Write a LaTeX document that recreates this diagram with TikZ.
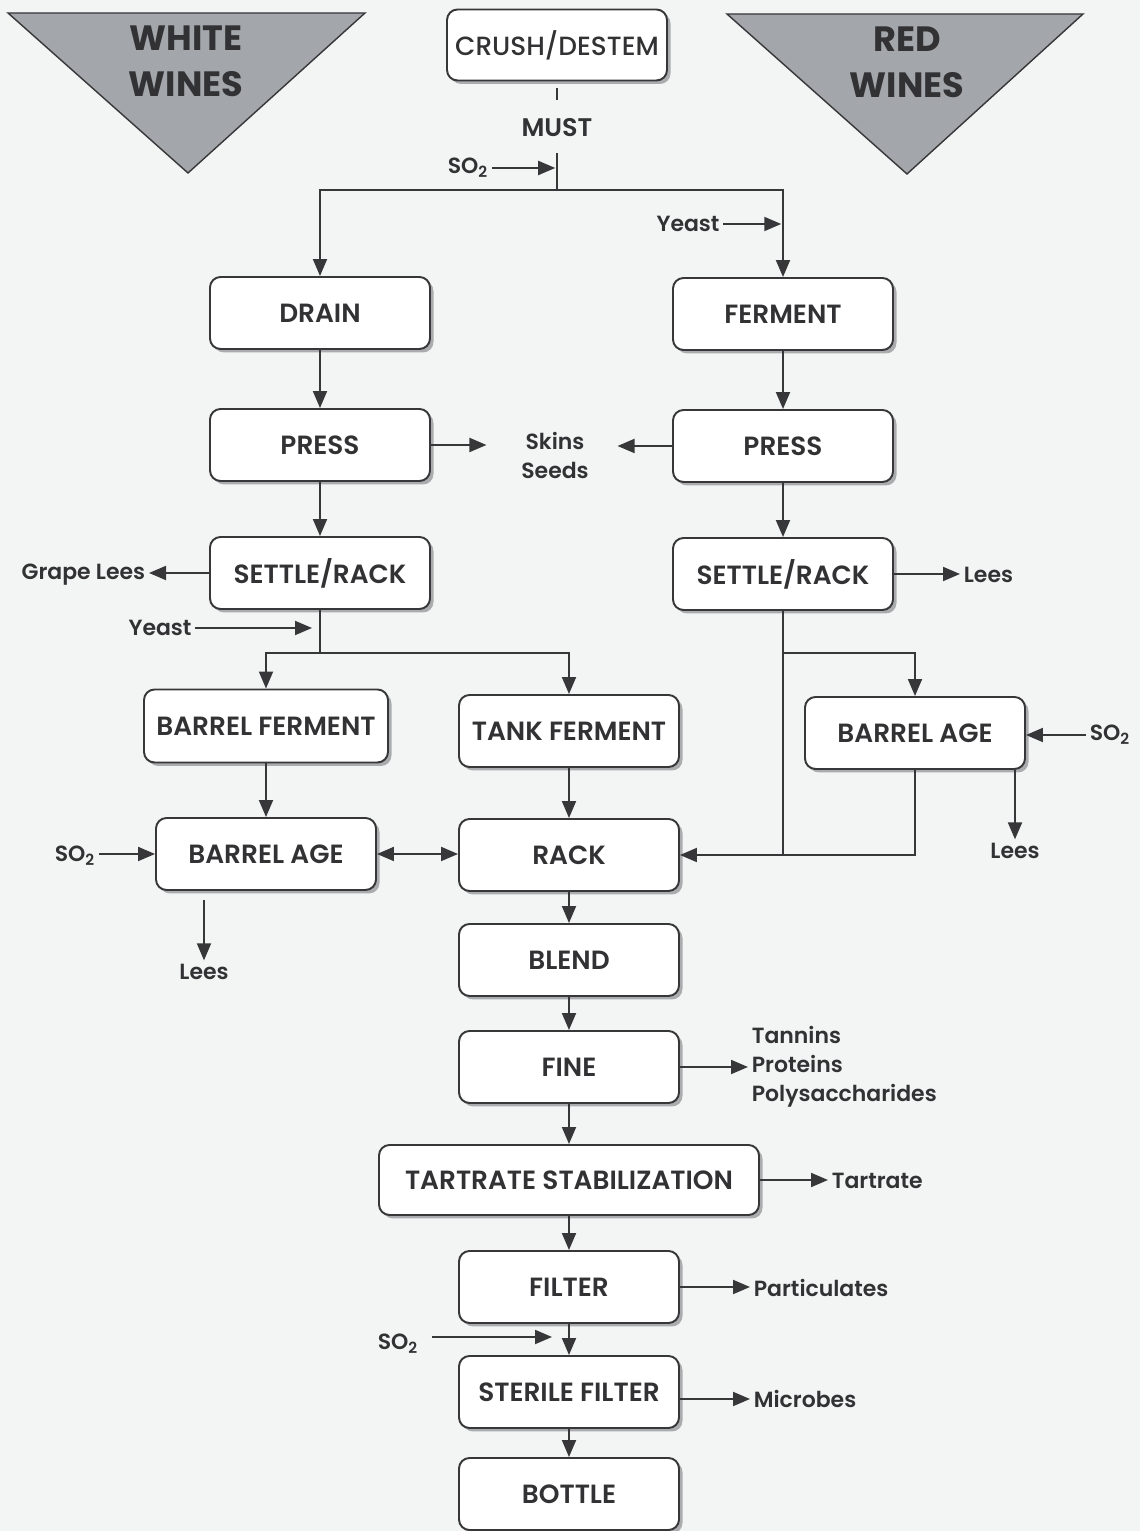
\documentclass[tikz,border=0pt]{standalone}
\usepackage{fontspec}
\setmainfont{Poppins}[BoldFont={Poppins SemiBold}]
\newfontfamily\heavyfont{Poppins Bold}
\newfontfamily\mediumfont{Poppins Medium}
\usetikzlibrary{arrows.meta,shadows}
\begin{document}
\begin{tikzpicture}[
  stage/.style={draw=linecolor,line width=1.1pt,fill=white,rounded corners=6pt,
    minimum width=4.4cm,minimum height=1.44cm,text=textcolor,
    font=\bfseries\fontsize{15}{17}\selectfont,
    drop shadow={shadow xshift=0.07cm,shadow yshift=-0.07cm,fill=shadowcolor,opacity=1}},
  note/.style={font=\bfseries\fontsize{12.5}{15}\selectfont,text=textcolor,inner sep=2pt},
  bignote/.style={font=\heavyfont\fontsize{20}{26}\selectfont,text=textcolor,align=center},
  flow/.style={draw=linecolor,line width=1.1pt},
  arr/.style={flow,-{Triangle[length=0.34cm,width=0.28cm]}},
  dblarr/.style={flow,{Triangle[length=0.34cm,width=0.28cm]}-{Triangle[length=0.34cm,width=0.28cm]}},
  ]
\definecolor{background}{RGB}{243,244,244}
\definecolor{linecolor}{RGB}{55,55,57}
\definecolor{textcolor}{RGB}{50,50,52}
\definecolor{shadowcolor}{RGB}{170,172,174}
\definecolor{tricolor}{RGB}{163,166,170}
\fill[background] (0,0) rectangle (22.8,30.62);
\useasboundingbox (0,0) rectangle (22.8,30.62);
% the two wine triangles
\draw[draw=linecolor,fill=tricolor,line width=0.8pt] (0.16,30.36) -- (7.30,30.36) -- (3.76,27.16) -- cycle;
\node[bignote] (whiteWines) at (3.72,29.40) {WHITE\\WINES};
\draw[draw=linecolor,fill=tricolor,line width=0.8pt] (14.54,30.34) -- (21.66,30.34) -- (18.14,27.14) -- cycle;
\node[bignote] (redWines) at (18.14,29.38) {RED\\WINES};
% process steps
\node[stage,font=\mediumfont\fontsize{15}{17}\selectfont,minimum height=1.42cm] (crush) at (11.14,29.72) {CRUSH/DESTEM};
\node[stage] (drain) at (6.40,24.36) {DRAIN};
\node[stage] (ferment) at (15.66,24.34) {FERMENT};
\node[stage] (pressL) at (6.40,21.72) {PRESS};
\node[stage] (pressR) at (15.66,21.70) {PRESS};
\node[stage] (settleL) at (6.40,19.16) {SETTLE/RACK};
\node[stage] (settleR) at (15.66,19.14) {SETTLE/RACK};
\node[stage,minimum width=4.88cm,minimum height=1.46cm] (barrelF) at (5.32,16.10) {BARREL FERMENT};
\node[stage] (tankF) at (11.38,16.00) {TANK FERMENT};
\node[stage] (barrelAgeR) at (18.30,15.96) {BARREL AGE};
\node[stage] (barrelAgeL) at (5.32,13.54) {BARREL AGE};
\node[stage] (rack) at (11.38,13.52) {RACK};
\node[stage] (blend) at (11.38,11.42) {BLEND};
\node[stage] (fine) at (11.38,9.28) {FINE};
\node[stage,minimum width=7.6cm,minimum height=1.40cm] (tartrate) at (11.38,7.02) {TARTRATE STABILIZATION};
\node[stage] (filter) at (11.38,4.88) {FILTER};
\node[stage] (sterile) at (11.38,2.78) {STERILE FILTER};
\node[stage] (bottle) at (11.38,0.74) {BOTTLE};
% inputs and outputs
\node[note,font=\bfseries\fontsize{14.5}{17}\selectfont] (must) at (11.14,28.06) {MUST};
\node[note] (so2Top) at (9.36,27.26) {SO\textsubscript{2}};
\node[note] (yeastR) at (13.76,26.14) {Yeast};
\node[note,align=center,font=\bfseries\fontsize{12.5}{16.5}\selectfont] (skins) at (11.10,21.51) {Skins\\Seeds};
\node[note,anchor=east] (grapeLees) at (2.98,19.12) {Grape Lees};
\node[note,anchor=west] (leesR) at (19.20,19.12) {Lees};
\node[note] (yeastL) at (3.20,18.06) {Yeast};
\node[note] (so2L) at (1.50,13.50) {SO\textsubscript{2}};
\node[note] (leesL) at (4.08,11.18) {Lees};
\node[note] (so2R) at (22.20,15.92) {SO\textsubscript{2}};
\node[note] (leesRb) at (20.30,13.60) {Lees};
\node[note,anchor=west,align=left,font=\bfseries\fontsize{12.5}{16.4}\selectfont] (fineOut) at (14.96,9.28) {Tannins\\Proteins\\Polysaccharides};
\node[note,anchor=west] (tartOut) at (16.56,7.00) {Tartrate};
\node[note,anchor=west] (partOut) at (15.00,4.86) {Particulates};
\node[note,anchor=west] (microbes) at (15.00,2.64) {Microbes};
\node[note] (so2B) at (7.96,3.74) {SO\textsubscript{2}};
\coordinate (mustTop) at (11.14,28.62);
\coordinate (split) at (11.14,26.82);
\coordinate (splitL) at (6.40,17.56);
\coordinate (splitR) at (15.66,17.56);
\coordinate (joinR) at (15.66,13.52);
\coordinate (so2Bin) at (11.04,3.88);
% connectors
\draw[flow] ([yshift=-0.14cm]crush.south) -- (mustTop);
\draw[flow,shorten <=0.25cm] (must.south) -- (split);
\draw[arr,shorten >=1pt] (so2Top.east) -- (so2Top.east -| split);
\draw[arr] (split) -| (drain);
\draw[arr] (split) -| (ferment);
\draw[arr,shorten >=1pt] (yeastR.east) -- (yeastR.east -| ferment);
\draw[arr] (drain) -- (pressL);
\draw[arr] (ferment) -- (pressR);
\draw[arr,shorten >=0.62cm] (pressL.east) -- (pressL.east -| skins.west);
\draw[arr,shorten >=0.5cm] (pressR.west) -- (pressR.west -| skins.east);
\draw[arr] (pressL) -- (settleL);
\draw[arr] (pressR) -- (settleR);
\draw[arr] (settleL.west) -- (settleL.west -| grapeLees.east);
\draw[arr] (settleR.east) -- (settleR.east -| leesR.west);
\draw[flow] (settleL) -- (splitL);
\draw[arr,shorten >=0.16cm] (yeastL.east) -- (yeastL.east -| splitL);
\draw[arr] (splitL) -| (barrelF);
\draw[arr] (splitL) -| (tankF);
\draw[arr] (barrelF) -- (barrelAgeL);
\draw[arr] (tankF) -- (rack);
\draw[arr] (barrelAgeL.west -| so2L.east) -- (barrelAgeL.west);
\draw[dblarr] (barrelAgeL.east) -- (barrelAgeL.east -| rack.west);
\draw[arr] ([yshift=-0.18cm]barrelAgeL.south -| leesL) -- (leesL.north);
\draw[flow] (settleR) -- (joinR);
\draw[arr] (splitR) -| (barrelAgeR);
\draw[arr] (barrelAgeR) |- (rack);
\draw[arr] (so2R.west) -- (so2R.west -| barrelAgeR.east);
\draw[arr] (barrelAgeR.south -| leesRb) -- (leesRb.north);
\draw[arr] (rack) -- (blend);
\draw[arr] (blend) -- (fine);
\draw[arr] (fine.east) -- (fine.east -| fineOut.west);
\draw[arr] (fine) -- (tartrate);
\draw[arr] (tartrate.east) -- (tartrate.east -| tartOut.west);
\draw[arr] (tartrate) -- (filter);
\draw[arr] (filter.east) -- (filter.east -| partOut.west);
\draw[arr] (filter) -- (sterile);
\draw[arr,shorten <=0.2cm] (so2Bin -| so2B.east) -- (so2Bin);
\draw[arr] (sterile.east |- microbes.west) -- (microbes.west);
\draw[arr] (sterile) -- (bottle);
\end{tikzpicture}
\end{document}
